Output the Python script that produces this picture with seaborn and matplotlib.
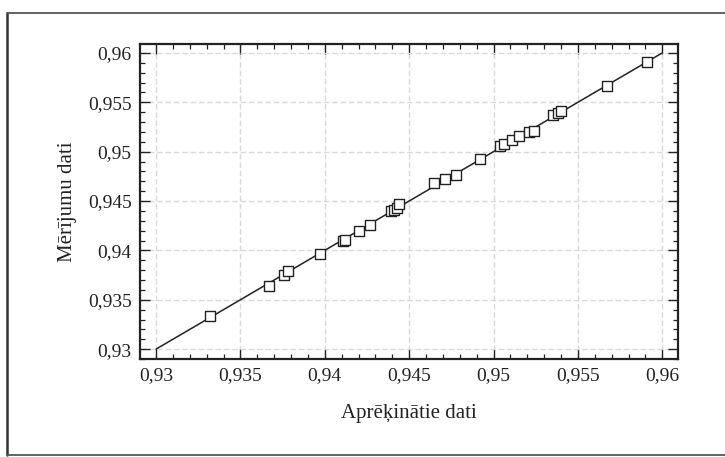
import matplotlib
matplotlib.use("Agg")
import matplotlib.pyplot as plt
import seaborn as sns
import pandas as pd
from matplotlib.ticker import MultipleLocator, FuncFormatter
from matplotlib.lines import Line2D

# Data
calculated = [0.9332, 0.9367, 0.9376, 0.9378, 0.9397, 0.9411, 0.9412, 0.9420,
              0.9427, 0.9439, 0.9441, 0.9443, 0.9444, 0.9465, 0.9471, 0.9478,
              0.9492, 0.9504, 0.9506, 0.9511, 0.9515, 0.9521, 0.9524, 0.9535,
              0.9538, 0.9540, 0.9567, 0.9591]
measured = [0.9334, 0.9364, 0.9375, 0.9379, 0.9396, 0.9409, 0.9411, 0.9420,
            0.9426, 0.9440, 0.9441, 0.9443, 0.9447, 0.9468, 0.9472, 0.9476,
            0.9493, 0.9506, 0.9508, 0.9512, 0.9516, 0.9520, 0.9521, 0.9537,
            0.9539, 0.9541, 0.9566, 0.9591]
fit_x = [0.93, 0.96]
fit_y = [0.93, 0.96]
major_ticks = [0.93, 0.935, 0.94, 0.945, 0.95, 0.955, 0.96]
x_title = "Aprēķinātie dati"
y_title = "Mērījumu dati"

sns.set_theme(style="white")
plt.rcParams['font.family'] = ['Liberation Serif', 'DejaVu Serif']

fig = plt.figure(figsize=(7.25, 4.57), dpi=100)
ax = fig.add_axes([140/725, 1 - 359/457, (678 - 140)/725, (359 - 44)/457])

df = pd.DataFrame({"x": calculated, "y": measured})
line_df = pd.DataFrame({"x": fit_x, "y": fit_y})

ax.grid(True, which='major', color='#dadada', linestyle=(0, (4, 2)), linewidth=1.0)
ax.set_axisbelow(True)

sns.lineplot(data=line_df, x="x", y="y", ax=ax, color='#222222', linewidth=1.1,
             zorder=2)
sns.scatterplot(data=df, x="x", y="y", ax=ax, marker='s', s=60,
                facecolor='white', edgecolor='#222222', linewidth=1.0, zorder=3)

ax.set_xlim(0.92905, 0.96093)
ax.set_ylim(0.9290, 0.9609)
ax.set_xticks(major_ticks)
ax.set_yticks(major_ticks)
ax.xaxis.set_minor_locator(MultipleLocator(0.001))
ax.yaxis.set_minor_locator(MultipleLocator(0.001))

def fmt(v, pos):
    s = f"{v:.3f}".rstrip('0').rstrip('.')
    return s.replace('.', ',')

ax.xaxis.set_major_formatter(FuncFormatter(fmt))
ax.yaxis.set_major_formatter(FuncFormatter(fmt))

ax.tick_params(which='both', direction='in', top=True, right=True,
               bottom=True, left=True, color='#222222')
ax.tick_params(which='major', length=7, width=1.0, labelsize=14, pad=6)
ax.tick_params(which='minor', length=3.5, width=0.9)
for sp in ax.spines.values():
    sp.set_color('#222222')
    sp.set_linewidth(1.6)

ax.set_xlabel(x_title, fontsize=15, labelpad=14, color='#222222')
ax.set_ylabel(y_title, fontsize=15, labelpad=8, color='#222222')
ax.tick_params(labelcolor='#222222')

# outer frame of the scanned figure
fig.add_artist(Line2D([7/725, 7/725], [1 - 13/457, 1 - 455/457],
                      transform=fig.transFigure, color='#333333', lw=1.8))
fig.add_artist(Line2D([7/725, 1.0], [1 - 13/457, 1 - 13/457],
                      transform=fig.transFigure, color='#555555', lw=1.3))
fig.add_artist(Line2D([7/725, 1.0], [1 - 455/457, 1 - 455/457],
                      transform=fig.transFigure, color='#555555', lw=1.3))

fig.savefig("out.png", dpi=100)
